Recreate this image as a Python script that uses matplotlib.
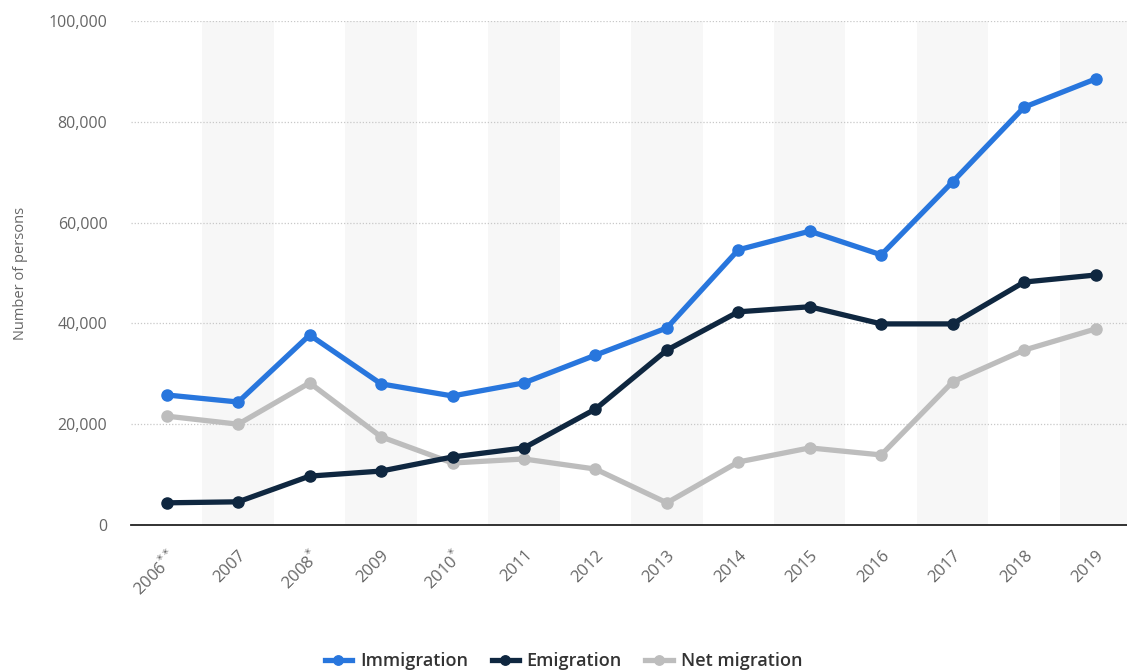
import matplotlib.pyplot as plt
from matplotlib.ticker import FuncFormatter
import numpy as np

plt.rcParams['font.family'] = ['Open Sans', 'DejaVu Sans']

years = ['2006$^{**}$', '2007', '2008$^{*}$', '2009', '2010$^{*}$', '2011', '2012',
         '2013', '2014', '2015', '2016', '2017', '2018', '2019']
immigration = [25800, 24400, 37700, 28000, 25600, 28200, 33700,
               39100, 54600, 58300, 53600, 68100, 82900, 88500]
emigration = [4400, 4600, 9700, 10700, 13500, 15300, 23000,
              34700, 42300, 43300, 39900, 39900, 48200, 49600]
net_migration = [21600, 20000, 28200, 17500, 12300, 13100, 11100,
                 4400, 12500, 15300, 13900, 28400, 34700, 38900]

fig = plt.figure(figsize=(11.27, 6.72), dpi=100)
ax = fig.add_axes([131 / 1127, 147 / 672, 1 - 131 / 1127, 504 / 672])

x = np.arange(len(years))

# alternating column shading
for i in range(1, len(years), 2):
    ax.axvspan(i - 0.5, i + 0.5, color='#f7f7f7', zorder=0, lw=0)

ax.plot(x, immigration, color='#2876dd', lw=3.8, marker='o', ms=8, label='Immigration', zorder=3)
ax.plot(x, emigration, color='#0f2740', lw=3.8, marker='o', ms=8, label='Emigration', zorder=3)
ax.plot(x, net_migration, color='#bdbdbd', lw=3.8, marker='o', ms=8, label='Net migration', zorder=2)

ax.set_xlim(-0.5, len(years) - 0.5 - 0.06)
ax.set_ylim(0, 100000)
ax.set_yticks(range(0, 100001, 20000))
ax.yaxis.set_major_formatter(FuncFormatter(lambda v, p: f'{int(v):,}'))
ax.grid(axis='y', linestyle=(0, (1, 1.5)), color='#c8c8c8', lw=0.9)
ax.set_axisbelow(True)

for s in ['top', 'right', 'left']:
    ax.spines[s].set_visible(False)
ax.spines['bottom'].set_color('#222222')
ax.spines['bottom'].set_linewidth(1.3)
ax.spines['bottom'].set_zorder(4)

ax.set_xticks(x)
ax.set_xticklabels(years, rotation=45, ha='right', rotation_mode='anchor')
ax.tick_params(axis='both', length=0, labelsize=12, labelcolor='#666666')
ax.tick_params(axis='x', pad=16)
ax.tick_params(axis='y', labelsize=11.5, pad=17)

ax.set_ylabel('Number of persons', fontsize=10.5, color='#666666')
ax.yaxis.set_label_coords(-0.103, 0.5)

leg = fig.legend(loc='center', bbox_to_anchor=(0.5, 11 / 672), ncol=3, frameon=False,
                 fontsize=13, handlelength=1.5, handletextpad=0.45, columnspacing=1.3,
                 markerscale=0.85)
for t in leg.get_texts():
    t.set_color('#333333')
    t.set_fontweight('semibold')

fig.savefig('out.png', dpi=100)
